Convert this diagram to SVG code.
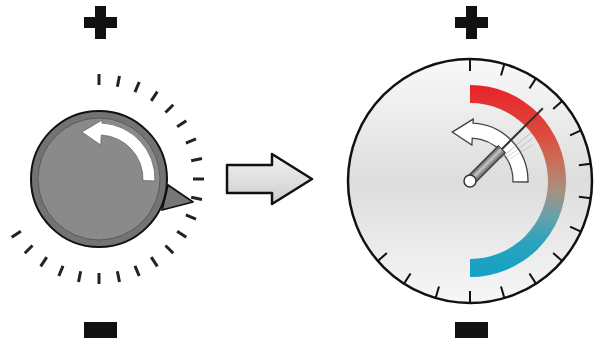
<svg xmlns="http://www.w3.org/2000/svg" width="597" height="338" viewBox="0 0 597 338">
  <defs>
    <linearGradient id="dialFill" x1="0" y1="0" x2="0" y2="1">
      <stop offset="0" stop-color="#f9f9f9"/>
      <stop offset="0.5" stop-color="#dddddd"/>
      <stop offset="1" stop-color="#f7f7f7"/>
    </linearGradient>
    <linearGradient id="heatArc" gradientUnits="userSpaceOnUse" x1="0" y1="-96" x2="0" y2="96">
      <stop offset="0" stop-color="#e8222a"/>
      <stop offset="0.25" stop-color="#dc4a3c"/>
      <stop offset="0.4" stop-color="#c8705a"/>
      <stop offset="0.55" stop-color="#a8907f"/>
      <stop offset="0.68" stop-color="#6aa0a8"/>
      <stop offset="0.82" stop-color="#2aa3be"/>
      <stop offset="1" stop-color="#12a2c4"/>
    </linearGradient>
    <linearGradient id="bigArrowFill" x1="0" y1="0" x2="0" y2="1">
      <stop offset="0" stop-color="#f2f2f2"/>
      <stop offset="1" stop-color="#cdcdcd"/>
    </linearGradient>
    <linearGradient id="needleFill" x1="0" y1="0" x2="0" y2="1">
      <stop offset="0" stop-color="#4a4a4a"/>
      <stop offset="0.45" stop-color="#c8c8c8"/>
      <stop offset="1" stop-color="#555"/>
    </linearGradient>
    <line id="knobTick" x1="0" y1="-94" x2="0" y2="-105"/>
    <line id="dialTick" x1="0" y1="-110" x2="0" y2="-122"/>
  </defs>
  <style>
    .sign { fill: #111; }
    .knobTicks use { stroke: #222; stroke-width: 3; }
    .dialTicks use { stroke: #111; stroke-width: 2; }
    .whiteArrow { fill: #fff; stroke-linejoin: miter; }
  </style>

  <rect x="0" y="0" width="597" height="338" fill="#fff"/>

  <!-- plus / minus signs -->
  <g id="plus-left" class="sign">
    <rect x="84" y="17" width="33" height="11"/>
    <rect x="95" y="6" width="11" height="33"/>
  </g>
  <g id="minus-left" class="sign">
    <rect x="84" y="322" width="33" height="16"/>
  </g>
  <g id="plus-right" class="sign">
    <rect x="455" y="17" width="33" height="11"/>
    <rect x="466" y="6" width="11" height="33"/>
  </g>
  <g id="minus-right" class="sign">
    <rect x="455" y="322" width="33" height="16"/>
  </g>

  <!-- left knob -->
  <g id="knob" transform="translate(99,179)">
    <g class="knobTicks">
      <use href="#knobTick" transform="rotate(0)"/>
      <use href="#knobTick" transform="rotate(11.25)"/>
      <use href="#knobTick" transform="rotate(22.5)"/>
      <use href="#knobTick" transform="rotate(33.75)"/>
      <use href="#knobTick" transform="rotate(45)"/>
      <use href="#knobTick" transform="rotate(56.25)"/>
      <use href="#knobTick" transform="rotate(67.5)"/>
      <use href="#knobTick" transform="rotate(78.75)"/>
      <use href="#knobTick" transform="rotate(90)"/>
      <use href="#knobTick" transform="rotate(101.25)"/>
      <use href="#knobTick" transform="rotate(112.5)"/>
      <use href="#knobTick" transform="rotate(123.75)"/>
      <use href="#knobTick" transform="rotate(135)"/>
      <use href="#knobTick" transform="rotate(146.25)"/>
      <use href="#knobTick" transform="rotate(157.5)"/>
      <use href="#knobTick" transform="rotate(168.75)"/>
      <use href="#knobTick" transform="rotate(180)"/>
      <use href="#knobTick" transform="rotate(191.25)"/>
      <use href="#knobTick" transform="rotate(202.5)"/>
      <use href="#knobTick" transform="rotate(213.75)"/>
      <use href="#knobTick" transform="rotate(225)"/>
      <use href="#knobTick" transform="rotate(236.25)"/>
    </g>
    <path d="M 69 6 L 94 23 L 63 31 Z" fill="#777" stroke="#111" stroke-width="1.8" stroke-linejoin="round"/>
    <circle cx="0" cy="0" r="68" fill="#737373" stroke="#111" stroke-width="2"/>
    <circle cx="0" cy="0" r="61" fill="#8a8a8a" stroke="#5a5a5a" stroke-width="1"/>
    <path class="whiteArrow" stroke="#666" stroke-width="0.8"
      d="M 55.97 1.95 A 56 56 0 0 0 2.93 -55.92 L 3.09 -58.92 L -17.1 -46.98 L 1.78 -33.95 L 2.30 -43.94 A 44 44 0 0 1 43.97 1.54 Z"/>
  </g>

  <!-- middle arrow -->
  <g id="transition-arrow">
    <path d="M 227 165 L 272 165 L 272 154 L 312 179 L 272 204 L 272 193 L 227 193 Z" fill="url(#bigArrowFill)" stroke="#111" stroke-width="2.5" stroke-linejoin="round"/>
  </g>

  <!-- right dial -->
  <g id="dial" transform="translate(470,181)">
    <circle cx="0" cy="0" r="122" fill="url(#dialFill)" stroke="#111" stroke-width="2.5"/>
    <g class="dialTicks">
      <use href="#dialTick" transform="rotate(0)"/>
      <use href="#dialTick" transform="rotate(16.3636)"/>
      <use href="#dialTick" transform="rotate(32.7273)"/>
      <use href="#dialTick" transform="rotate(49.0909)"/>
      <use href="#dialTick" transform="rotate(65.4545)"/>
      <use href="#dialTick" transform="rotate(81.8182)"/>
      <use href="#dialTick" transform="rotate(98.1818)"/>
      <use href="#dialTick" transform="rotate(114.5455)"/>
      <use href="#dialTick" transform="rotate(130.9091)"/>
      <use href="#dialTick" transform="rotate(147.2727)"/>
      <use href="#dialTick" transform="rotate(163.6364)"/>
      <use href="#dialTick" transform="rotate(180)"/>
      <use href="#dialTick" transform="rotate(196.3636)"/>
      <use href="#dialTick" transform="rotate(212.7273)"/>
      <use href="#dialTick" transform="rotate(229.0909)"/>
    </g>
    <path d="M 0 -96 A 96 96 0 0 1 0 96 L 0 78 A 78 78 0 0 0 0 -78 Z" fill="url(#heatArc)"/>
    <path class="whiteArrow" stroke="#444" stroke-width="1.3"
      d="M 57.99 1.01 A 58 58 0 0 0 3.03 -57.92 L 3.24 -61.92 L -17.78 -48.86 L 1.88 -35.95 L 2.25 -42.94 A 43 43 0 0 1 42.99 0.75 Z"/>
    <g id="needle" transform="rotate(-45)">
      <line x1="38" y1="6" x2="78" y2="9" stroke="#777" stroke-width="0.8" opacity="0.5"/>
      <line x1="40" y1="9" x2="75" y2="14" stroke="#777" stroke-width="0.8" opacity="0.4"/>
      <line x1="42" y1="12" x2="70" y2="19" stroke="#777" stroke-width="0.8" opacity="0.3"/>
      <rect x="0" y="-5" width="45" height="10" fill="url(#needleFill)" stroke="#333" stroke-width="1"/>
      <line x1="45" y1="0" x2="103" y2="0" stroke="#333" stroke-width="2"/>
      <circle cx="0" cy="0" r="6" fill="#fff" stroke="#333" stroke-width="1.5"/>
    </g>
  </g>
</svg>
